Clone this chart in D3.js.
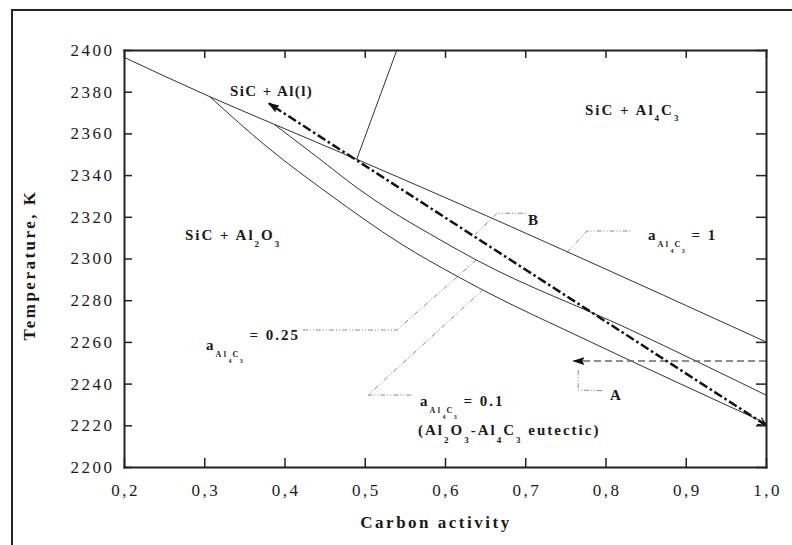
<!DOCTYPE html>
<html>
<head>
<meta charset="utf-8">
<title>SiC stability vs carbon activity</title>
<script src="https://d3js.org/d3.v7.min.js"></script>
<style>
  body { margin: 0; background: #fff; }
  svg text { font-family: "Liberation Serif", "Times New Roman", serif; fill: #1a1a1a; white-space: pre; }
  .tick text { font-size: 17px; letter-spacing: 2.5px; font-weight: normal; }
  .lbl { font-size: 15px; font-weight: bold; letter-spacing: 2px; }
  .axis-title { font-size: 17px; font-weight: bold; letter-spacing: 2.5px; }
</style>
</head>
<body>
<div id="chart"></div>
<script>

  // tick values
  var carbonTicks = [0.2, 0.3, 0.4, 0.5, 0.6, 0.7, 0.8, 0.9, 1.0];
  var tempTicks = [2200, 2220, 2240, 2260, 2280, 2300, 2320, 2340, 2360, 2380, 2400];

  // phase boundaries, [carbon activity, temperature K]
  var boundaryA1 = [[0.2, 2396.5], [0.307, 2377.6], [0.387, 2364.4], [0.49, 2347.6], [1.0, 2260]];
  var boundaryA025 = [[0.387, 2364.4], [0.4405, 2348.7], [0.494, 2332.9], [0.531, 2323.3], [0.581, 2311.8],
                      [0.639, 2299.3], [0.8305, 2265.9], [1.0, 2234.5]];
  var boundaryA01 = [[0.307, 2377.6], [0.378, 2353.6], [0.457, 2330.5], [0.544, 2307.3], [0.615, 2291.5],
                     [0.647, 2284.9], [0.777, 2260.8], [1.0, 2221]];
  var liquidus = [[0.49, 2347.6], [0.54, 2400]];

  // process paths
  var pathAB = [[1.0, 2220], [0.38, 2374.5]];
  var pathA = [[1.0, 2250.8], [0.76, 2250.8]];

  // label leader lines
  var leaderA = [[0.766, 2246.5], [0.766, 2236.9], [0.797, 2236.6]];
  var leaderB = [[0.637, 2311.3], [0.665, 2321.7], [0.702, 2321.7]];
  var leaderA1 = [[0.752, 2302.9], [0.777, 2313.2], [0.833, 2313.2]];
  var leaderA025 = [[0.423, 2265.7], [0.54, 2265.7], [0.639, 2299.3]];
  var leaderA01 = [[0.558, 2234.5], [0.504, 2234.5], [0.647, 2284.9]];

  var W = 792, H = 545;
  var plot = {left: 124, right: 766, top: 50, bottom: 467};

  var x = d3.scaleLinear().domain([0.2, 1.0]).range([plot.left, plot.right]);
  var y = d3.scaleLinear().domain([2200, 2400]).range([plot.bottom, plot.top]);

  var svg = d3.select('#chart').append('svg')
              .attr('width', W)
              .attr('height', H);

  // outer frame of the figure
  svg.append('rect')
     .attr('x', 12).attr('y', 10)
     .attr('width', W + 20).attr('height', H + 20)
     .attr('fill', 'none')
     .attr('stroke', '#222')
     .attr('stroke-width', 2);

  var defs = svg.append('defs');
  defs.append('marker')
      .attr('id', 'head')
      .attr('markerUnits', 'userSpaceOnUse')
      .attr('viewBox', '0 0 12 8')
      .attr('markerWidth', 12).attr('markerHeight', 8)
      .attr('refX', 11).attr('refY', 4)
      .attr('orient', 'auto')
    .append('path')
      .attr('d', 'M0,0 L12,4 L0,8 L2,4 Z')
      .attr('fill', '#111');
  defs.append('marker')
      .attr('id', 'chev')
      .attr('markerUnits', 'userSpaceOnUse')
      .attr('viewBox', '0 0 10 10')
      .attr('markerWidth', 10).attr('markerHeight', 10)
      .attr('refX', 9).attr('refY', 5)
      .attr('orient', 'auto-start-reverse')
    .append('path')
      .attr('d', 'M1,1 L9,5 L1,9')
      .attr('fill', 'none')
      .attr('stroke', '#111')
      .attr('stroke-width', 1.2);

  var line = d3.line()
               .x(function(d) { return x(d[0]); })
               .y(function(d) { return y(d[1]); });
  var smooth = d3.line()
                 .x(function(d) { return x(d[0]); })
                 .y(function(d) { return y(d[1]); })
                 .curve(d3.curveMonotoneX);

  // leader lines (thin grey dash-dot-dot)
  [leaderA, leaderB, leaderA1, leaderA025, leaderA01].forEach(function(l) {
    svg.append('path')
       .attr('d', line(l))
       .attr('fill', 'none')
       .attr('stroke', '#8a8a8a')
       .attr('stroke-width', 1)
       .attr('stroke-dasharray', '5,2,1,2,1,2');
  });

  // phase boundaries
  [boundaryA1, boundaryA025, boundaryA01, liquidus].forEach(function(b) {
    svg.append('path')
       .attr('d', smooth(b))
       .attr('fill', 'none')
       .attr('stroke', '#333')
       .attr('stroke-width', 1);
  });

  // dashed horizontal arrow (path A)
  svg.append('path')
     .attr('d', line(pathA))
     .attr('fill', 'none')
     .attr('stroke', '#6a6a6a')
     .attr('stroke-width', 1.5)
     .attr('stroke-dasharray', '7,4')
     .attr('marker-end', 'url(#head)');

  // thick dash-dot arrow (A -> B)
  svg.append('path')
     .attr('d', line(pathAB))
     .attr('fill', 'none')
     .attr('stroke', '#111')
     .attr('stroke-width', 2.5)
     .attr('stroke-dasharray', '9,3,2.5,3')
     .attr('marker-start', 'url(#chev)')
     .attr('marker-end', 'url(#head)');

  // axes, ticks pointing inwards on all four sides
  var fmt = function(d) { return d3.format('.1f')(d).replace('.', ','); };

  var xAxis = svg.append('g')
                 .attr('transform', 'translate(0,' + plot.bottom + ')')
                 .call(d3.axisBottom(x).tickValues(carbonTicks).tickSize(-9).tickSizeOuter(0).tickFormat(fmt));
  xAxis.selectAll('.tick text').attr('y', 29).attr('dy', 0).attr('dx', 1.2);

  svg.append('g')
     .attr('transform', 'translate(' + plot.left + ',0)')
     .call(d3.axisLeft(y).tickValues(tempTicks).tickSize(-8).tickSizeOuter(0).tickPadding(9.5).tickFormat(d3.format('d')));

  svg.append('g')
     .attr('transform', 'translate(0,' + plot.top + ')')
     .call(d3.axisTop(x).tickValues(carbonTicks).tickSize(-8).tickSizeOuter(0).tickFormat(''));

  svg.append('g')
     .attr('transform', 'translate(' + plot.right + ',0)')
     .call(d3.axisRight(y).tickValues(tempTicks).tickSize(-10).tickSizeOuter(0).tickFormat(''));

  svg.selectAll('.domain').attr('stroke', '#222').attr('stroke-width', 2).attr('stroke-linecap', 'square');
  svg.selectAll('.tick line').attr('stroke', '#222').attr('stroke-width', 1.5);

  // axis titles
  svg.append('text')
     .attr('class', 'axis-title')
     .attr('x', 436).attr('y', 528)
     .attr('text-anchor', 'middle')
     .text('Carbon activity');

  svg.append('text')
     .attr('class', 'axis-title')
     .attr('transform', 'translate(35,265) rotate(-90)')
     .attr('text-anchor', 'middle')
     .text('Temperature, K');

  // text with subscript runs: [string, dy, size, letter-spacing]
  function richText(px, py, runs) {
    var t = svg.append('text').attr('class', 'lbl').attr('x', px).attr('y', py);
    runs.forEach(function(r) {
      var s = t.append('tspan').attr('dy', r[1]).text(r[0]);
      if (r[2]) s.style('font-size', r[2] + 'px');
      if (r[3] !== undefined) s.style('letter-spacing', r[3] + 'px');
    });
    return t;
  }

  function activityLabel(px, py, value, eqDy) {
    return richText(px, py, [
      ['a', 0],
      ['Al', 7, 8, 2.5],
      ['4', 6, 6, 1],
      ['C', -6, 8, 1.5],
      ['3', 6, 6, 1],
      [' = ' + value, -13 + eqDy]
    ]);
  }

  richText(230, 96, [['SiC + Al(l)', 0, null, 1.4]]);
  richText(585, 115, [['SiC + Al', 0], ['4', 6, 9], ['C', -6], ['3', 6, 9]]);
  richText(185, 240, [['SiC + Al', 0], ['2', 7, 9], ['O', -7], ['3', 7, 9]]);

  activityLabel(648, 240, '1', 0);
  activityLabel(206, 350, '0.25', -10);
  activityLabel(420, 406, '0.1', 0);

  richText(418, 435, [['(Al', 0], ['2', 8, 9], ['O', -8], ['3', 8, 9], ['-Al', -8], ['4', 8, 9],
                      ['C', -8], ['3', 8, 9], [' eutectic)', -8]]);

  richText(610, 400, [['A', 0]]);
  richText(528, 225, [['B', 0]]);

</script>
</body>
</html>
